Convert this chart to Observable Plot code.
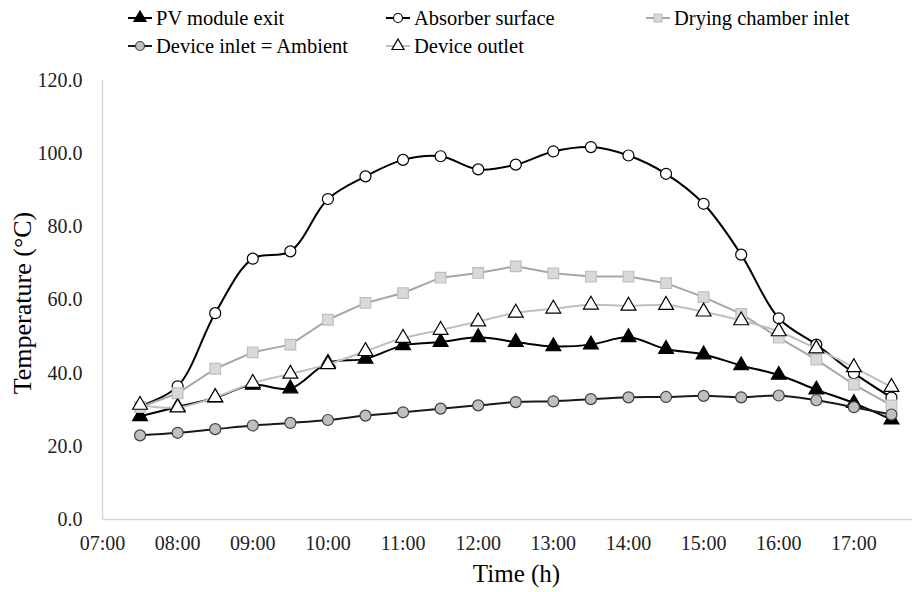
<!DOCTYPE html>
<html><head><meta charset="utf-8">
<script src="https://cdn.jsdelivr.net/npm/d3@7"></script>
<script src="https://cdn.jsdelivr.net/npm/@observablehq/plot@0.6"></script>
<style>
body{margin:0;background:#fff;font-family:"Liberation Serif","Times New Roman","DejaVu Serif",serif;}
#legend{position:relative;height:62px;width:915px;}
.item{position:absolute;display:flex;align-items:center;font-size:20.5px;color:#000;white-space:nowrap;height:24px;}
.item svg{margin-right:4px;}
svg text{font-family:"Liberation Serif","Times New Roman","DejaVu Serif",serif;}
</style></head><body>
<div id="legend"></div><div id="chart"></div>
<script>
const times = ["07:30","08:00","08:30","09:00","09:30","10:00","10:30","11:00","11:30","12:00","12:30","13:00","13:30","14:00","14:30","15:00","15:30","16:00","16:30","17:00","17:30"];
const pvModuleExit = [28.2,30.8,33.3,36.8,35.8,42.8,43.9,47.6,48.5,49.8,48.5,47.3,47.8,49.8,46.6,45.1,42.1,39.5,35.5,31.8,27.3];
const absorberSurface = [31.0,36.4,56.4,71.3,73.3,87.6,93.8,98.3,99.3,95.7,97.0,100.6,101.8,99.5,94.5,86.3,72.4,55.0,47.8,40.0,33.3];
const dryingChamberInlet = [30.7,34.5,41.2,45.7,47.8,54.6,59.2,61.9,66.1,67.4,69.2,67.3,66.4,66.4,64.6,60.8,56.2,49.7,43.7,36.9,31.2];
const deviceInletAmbient = [23.0,23.7,24.7,25.7,26.4,27.2,28.4,29.3,30.3,31.2,32.1,32.3,32.9,33.4,33.5,33.8,33.4,33.9,32.6,30.7,28.7];
const deviceOutlet = [31.3,30.6,33.4,37.3,39.8,42.4,46.0,49.6,51.8,54.1,56.5,57.6,58.7,58.4,58.6,56.8,54.4,51.4,46.7,41.6,36.2];
const xTickLabels = ["07:00","08:00","09:00","10:00","11:00","12:00","13:00","14:00","15:00","16:00","17:00"];
const yTicks = [0,20,40,60,80,100,120];

const toHours = s => { const [h,m] = s.split(":").map(Number); return h + m/60; };
const FONT = "'Liberation Serif', 'Times New Roman', 'DejaVu Serif', serif";

const series = [
  {name:"PV module exit", values:pvModuleExit, stroke:"#000", symbol:"triangle", fill:"#000", mstroke:"#000", curve:"catmull-rom", r:5.5},
  {name:"Absorber surface", values:absorberSurface, stroke:"#000", symbol:"circle", fill:"#fff", mstroke:"#000", curve:"catmull-rom", r:5.5},
  {name:"Drying chamber inlet", values:dryingChamberInlet, stroke:"#a6a6a6", symbol:"square", fill:"#d9d9d9", mstroke:"#bfbfbf", curve:"linear", r:6},
  {name:"Device inlet = Ambient", values:deviceInletAmbient, stroke:"#1a1a1a", symbol:"circle", fill:"#bfbfbf", mstroke:"#404040", curve:"catmull-rom", r:5.5},
  {name:"Device outlet", values:deviceOutlet, stroke:"#bfbfbf", symbol:"triangle", fill:"#fff", mstroke:"#000", curve:"catmull-rom", r:5.5}
];

const marks = [
  Plot.ruleX([toHours("07:00")], {stroke:"#d9d9d9", strokeWidth:1.5}),
  Plot.ruleY([0], {stroke:"#d9d9d9", strokeWidth:1.5}),
  Plot.axisX(xTickLabels.map(toHours), {tickSize:0, tickPadding:16, fontSize:20, label:null,
    tickFormat: d => xTickLabels.find(s => toHours(s) === d), fill:"#222"}),
  Plot.axisY(yTicks, {tickSize:0, tickPadding:20, fontSize:20, label:null, tickFormat: d => d.toFixed(1), fill:"#222"}),
  Plot.text(["Time (h)"], {frameAnchor:"bottom", textAnchor:"middle", lineAnchor:"middle", dx:9, dy:54, fontSize:25, fill:"#000"}),
  Plot.text(["Temperature (°C)"], {frameAnchor:"left", textAnchor:"middle", lineAnchor:"middle", rotate:-90, dx:-80, dy:3, fontSize:26, fill:"#000"})
];
for (const s of series) {
  const data = times.map((t,i) => ({t: toHours(t), v: s.values[i]}));
  marks.push(Plot.line(data, {x:"t", y:"v", stroke:s.stroke, strokeWidth:2, curve:s.curve}));
  marks.push(Plot.dot(data, {x:"t", y:"v", symbol:s.symbol, r:s.r, fill:s.fill, stroke:s.mstroke, strokeWidth:1.2}));
}

const chart = Plot.plot({
  width:915, height:530,
  marginTop:18, marginBottom:73, marginLeft:102, marginRight:3,
  style:{fontFamily:FONT, background:"#fff", color:"#000"},
  x:{type:"linear", domain:[toHours("07:00"), 17.78]},
  y:{domain:[0,120]},
  marks
});
document.getElementById("chart").appendChild(chart);

// legend
const legendPos = [[128,6],[386,6],[646,6],[128,34],[386,34]];
const legend = document.getElementById("legend");
series.forEach((s,k) => {
  const div = document.createElement("div");
  div.className = "item";
  div.style.left = legendPos[k][0] + "px";
  div.style.top = legendPos[k][1] + "px";
  const sym = d3.symbol(s.symbol === "triangle" ? d3.symbolTriangle : s.symbol === "square" ? d3.symbolSquare : d3.symbolCircle, Math.PI*4.5*4.5)();
  div.innerHTML = `<svg width="24" height="24"><line x1="0" x2="24" y1="12" y2="12" stroke="${s.stroke}" stroke-width="2"/><path d="${sym}" transform="translate(12,12)" fill="${s.fill}" stroke="${s.mstroke}" stroke-width="1.2"/></svg><span>${s.name}</span>`;
  legend.appendChild(div);
});
</script>
</body></html>
